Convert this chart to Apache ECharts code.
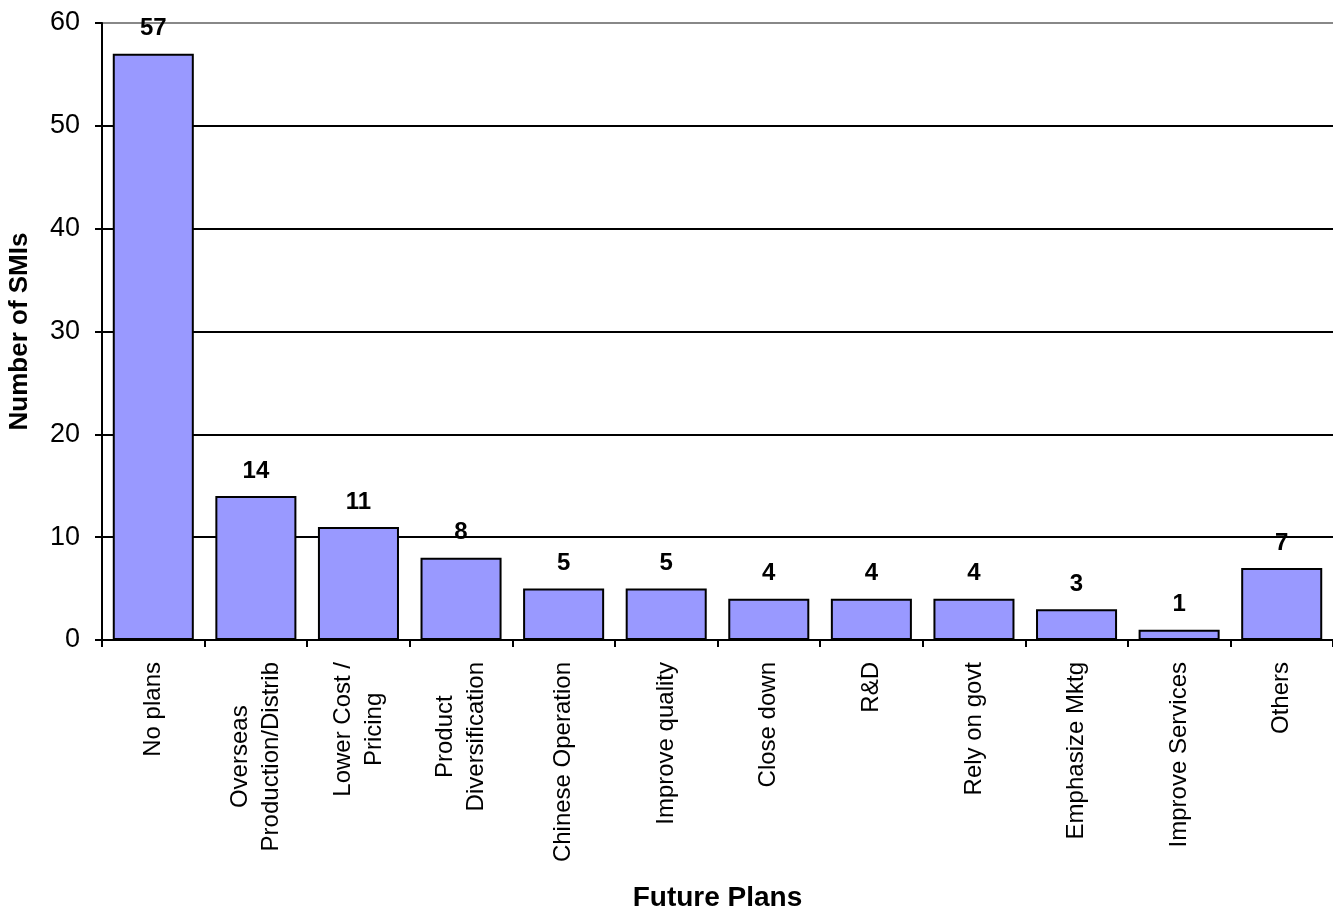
<!DOCTYPE html>
<html>
<head>
<meta charset="utf-8">
<script src="https://cdn.jsdelivr.net/npm/echarts@6/dist/echarts.min.js"></script>
<style>
html,body{margin:0;padding:0;background:#fff;overflow:hidden;}
#chart{width:1333px;height:908px;}
</style>
</head>
<body>
<div id="chart"></div>
<script>
const categories = ['No plans', 'Overseas\nProduction/Distrib', 'Lower Cost /\nPricing', 'Product\nDiversification', 'Chinese Operation', 'Improve quality', 'Close down', 'R&D', 'Rely on govt', 'Emphasize Mktg', 'Improve Services', 'Others'];
const values = [57, 14, 11, 8, 5, 5, 4, 4, 4, 3, 1, 7];
const yTicks = [0, 10, 20, 30, 40, 50, 60];
const xTitle = 'Future Plans';
const yTitle = 'Number of SMIs';

const FONT = 'Liberation Sans, Arial, sans-serif';
const chart = echarts.init(document.getElementById('chart'), null, {renderer: 'canvas'});
chart.setOption({
  backgroundColor: '#fff',
  animation: false,
  grid: {left: 102, right: 0, top: 23, bottom: 268, containLabel: false, outerBoundsMode: 'none'},
  xAxis: {
    type: 'category',
    data: categories,
    boundaryGap: true,
    name: xTitle,
    nameLocation: 'middle',
    nameGap: 244,
    nameTextStyle: {fontFamily: FONT, fontSize: 28, fontWeight: 'bold', color: '#000'},
    axisLine: {show: true, lineStyle: {color: '#000', width: 2}},
    axisTick: {show: true, alignWithLabel: false, length: 7, lineStyle: {color: '#000', width: 2}},
    axisLabel: {
      interval: 0,
      rotate: 90,
      margin: 22,
      fontFamily: FONT,
      fontSize: 24,
      color: '#000',
      formatter: v => v.split('\n').map(s => '{c|' + s + '}').join('\n'),
      rich: {c: {align: 'center', fontFamily: FONT, fontSize: 24, lineHeight: 31, color: '#000'}}
    },
    splitLine: {show: false}
  },
  yAxis: {
    type: 'value',
    min: yTicks[0],
    max: yTicks[yTicks.length - 1],
    interval: 10,
    name: yTitle,
    nameLocation: 'middle',
    nameGap: 69,
    nameRotate: 90,
    nameTextStyle: {fontFamily: FONT, fontSize: 26, fontWeight: 'bold', color: '#000'},
    axisLine: {show: true, lineStyle: {color: '#000', width: 2}},
    axisTick: {show: true, length: 7, lineStyle: {color: '#000', width: 2}},
    axisLabel: {margin: 22, fontFamily: FONT, fontSize: 27, color: '#000'},
    splitLine: {show: true, lineStyle: {color: ['#000', '#000', '#000', '#000', '#000', '#000', '#888'], width: 2}}
  },
  series: [{
    type: 'bar',
    data: values,
    barWidth: '79%',
    itemStyle: {color: '#9999FF', borderColor: '#000', borderWidth: 2},
    label: {
      show: true,
      position: 'top',
      distance: 13,
      fontFamily: FONT,
      fontSize: 24,
      fontWeight: 'bold',
      color: '#000'
    }
  }]
});
</script>
</body>
</html>
